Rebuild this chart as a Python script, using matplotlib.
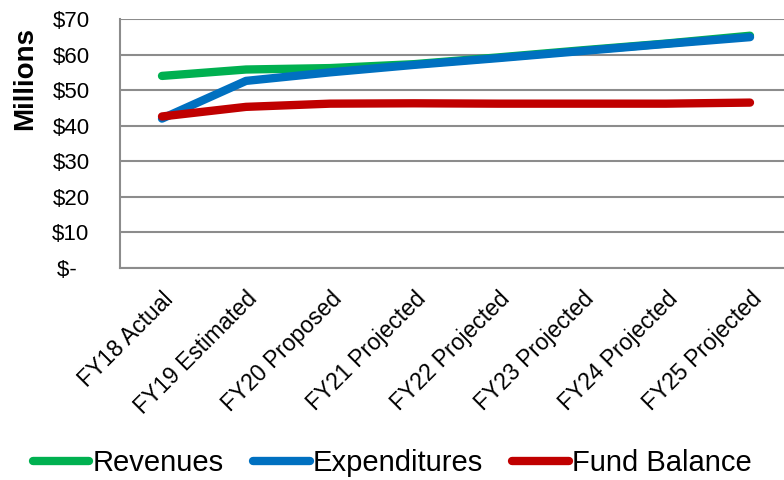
import matplotlib.pyplot as plt

plt.rcParams['font.family'] = ['Liberation Sans', 'DejaVu Sans']

years = ["FY18 Actual", "FY19 Estimated", "FY20 Proposed", "FY21 Projected",
         "FY22 Projected", "FY23 Projected", "FY24 Projected", "FY25 Projected"]
revenues = [54.0, 55.8, 56.2, 57.3, 59.2, 61.2, 63.1, 65.3]
expenditures = [42.0, 52.6, 55.0, 57.1, 59.0, 61.0, 63.0, 64.9]
fund_balance = [42.6, 45.3, 46.2, 46.3, 46.2, 46.2, 46.2, 46.5]

yticks = [0, 10, 20, 30, 40, 50, 60, 70]
ytick_labels = ["$-  ", "$10", "$20", "$30", "$40", "$50", "$60", "$70"]

fig = plt.figure(figsize=(7.84, 4.8), dpi=100)
ax = fig.add_axes([120 / 784, 1 - 268 / 480, 672 / 784, 249 / 480])

x = range(len(years))
ax.plot(x, revenues, color='#00b050', lw=6, solid_capstyle='round', label='Revenues', zorder=3)
ax.plot(x, expenditures, color='#0070c0', lw=6, solid_capstyle='round', label='Expenditures', zorder=4)
ax.plot(x, fund_balance, color='#c00000', lw=6, solid_capstyle='round', label='Fund Balance', zorder=5)

ax.set_xlim(-0.5, 7.5)
ax.set_ylim(0, 70)
ax.set_yticks(yticks)
ax.set_yticklabels(ytick_labels, fontsize=16)
ax.set_xticks(list(x))
ax.set_xticklabels(years, rotation=45, ha='right', rotation_mode='anchor', fontsize=16.5)

# horizontal gridlines only, grey like the axis lines
ax.grid(axis='y', color='#8c8c8c', lw=1.5)
ax.set_axisbelow(True)
for s in ['top', 'right']:
    ax.spines[s].set_visible(False)
for s in ['left', 'bottom']:
    ax.spines[s].set_color('#8c8c8c')
    ax.spines[s].set_linewidth(1.5)
ax.tick_params(axis='x', length=0, pad=14)
ax.tick_params(axis='y', length=0, pad=22)

fig.text(25 / 784, 1 - 79 / 480, "Millions", rotation=90, fontsize=20, fontweight='bold',
         ha='center', va='center')

fig.legend(loc='center', bbox_to_anchor=(0.5, 1 - 463 / 480), ncol=3, frameon=False,
           fontsize=21, handlelength=1.95, handletextpad=0.1, columnspacing=1.0)

fig.savefig('out.png', dpi=100)
